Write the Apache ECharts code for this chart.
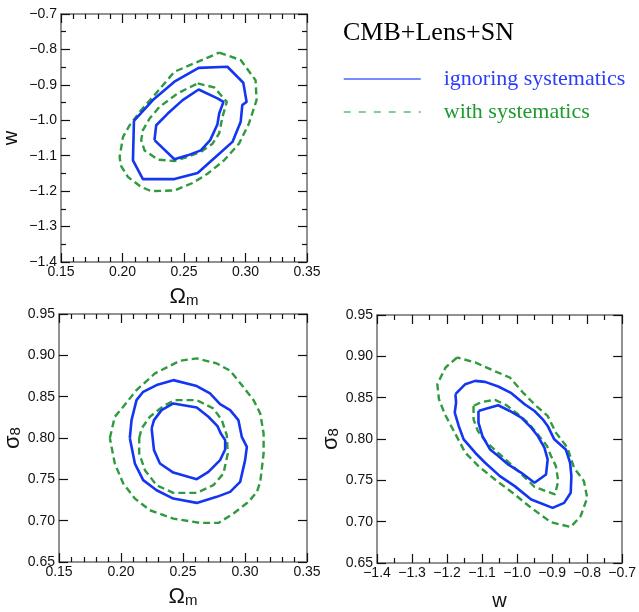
<!DOCTYPE html>
<html>
<head>
<meta charset="utf-8">
<script src="https://cdn.jsdelivr.net/npm/echarts@6/dist/echarts.min.js"></script>
<style>
  html, body { margin: 0; padding: 0; background: #fff; }
  #chart { width: 639px; height: 612px; }
</style>
</head>
<body>
<div id="chart"></div>
<script>
// contour points, [x, y]
// panel 1: Omega_m vs w
const omW_blueInner = [[0.226,-1.056],[0.2274,-1.014],[0.2368,-0.981],[0.2489,-0.943],[0.2619,-0.913],[0.2772,-0.938],[0.2821,-0.948],[0.2786,-0.981],[0.2772,-1.011],[0.2713,-1.056],[0.2637,-1.085],[0.253,-1.099],[0.2422,-1.11]];
const omW_blueOuter = [[0.2093,-1.002],[0.2085,-1.113],[0.2166,-1.166],[0.2422,-1.166],[0.2611,-1.149],[0.2759,-1.103],[0.2894,-1.061],[0.2961,-1.004],[0.2974,-0.957],[0.3009,-0.948],[0.2982,-0.894],[0.2853,-0.849],[0.2619,-0.852],[0.2422,-0.891],[0.2247,-0.943]];
const omW_greenInner = [[0.2611,-0.896],[0.2745,-0.907],[0.2848,-0.948],[0.2813,-0.99],[0.2786,-1.037],[0.2732,-1.066],[0.2637,-1.089],[0.253,-1.103],[0.2422,-1.115],[0.2287,-1.111],[0.2179,-1.085],[0.2152,-1.056],[0.2166,-1.028],[0.222,-0.995],[0.2301,-0.962],[0.2449,-0.924]];
const omW_greenOuter = [[0.2786,-0.809],[0.2961,-0.83],[0.3082,-0.887],[0.309,-0.943],[0.3028,-1.009],[0.2947,-1.066],[0.2826,-1.113],[0.2691,-1.151],[0.257,-1.177],[0.2422,-1.198],[0.2233,-1.2],[0.2152,-1.188],[0.2044,-1.16],[0.1985,-1.127],[0.1977,-1.103],[0.2004,-1.047],[0.2058,-1.014],[0.2152,-0.971],[0.226,-0.929],[0.2422,-0.863],[0.2611,-0.835]];

// panel 2: Omega_m vs sigma8
const omS_blueInner = [[0.2247,0.8115],[0.2266,0.7853],[0.2314,0.7691],[0.2422,0.7582],[0.2611,0.7502],[0.2705,0.759],[0.2799,0.7732],[0.284,0.7861],[0.284,0.7974],[0.2805,0.8055],[0.2778,0.8144],[0.2705,0.8257],[0.2611,0.837],[0.2422,0.8418],[0.2327,0.8337],[0.2266,0.8216]];
const omS_blueOuter = [[0.2071,0.8],[0.2085,0.8216],[0.2125,0.8458],[0.2179,0.8559],[0.2287,0.864],[0.2422,0.87],[0.2611,0.8628],[0.2718,0.8539],[0.2799,0.841],[0.288,0.8337],[0.2947,0.8216],[0.2974,0.8014],[0.3015,0.7893],[0.3001,0.7732],[0.2961,0.7469],[0.288,0.7348],[0.2772,0.7288],[0.2611,0.7215],[0.2422,0.7267],[0.2287,0.7368],[0.2179,0.749],[0.2112,0.7691]];
const omS_greenInner = [[0.2147,0.8],[0.2166,0.8115],[0.2233,0.8257],[0.2341,0.8386],[0.2435,0.8458],[0.2611,0.8458],[0.2745,0.8357],[0.2813,0.8216],[0.2853,0.8034],[0.2861,0.7812],[0.2826,0.757],[0.2745,0.7429],[0.2611,0.7336],[0.2422,0.7336],[0.2287,0.7429],[0.2193,0.7611],[0.2147,0.7812]];
const omS_greenOuter = [[0.191,0.8],[0.195,0.8257],[0.2018,0.8378],[0.2125,0.858],[0.2274,0.8781],[0.2476,0.8935],[0.2611,0.8963],[0.2772,0.8902],[0.288,0.8814],[0.2974,0.864],[0.3069,0.8458],[0.3123,0.8297],[0.315,0.8055],[0.315,0.7812],[0.3123,0.7469],[0.3096,0.7348],[0.3028,0.7227],[0.2907,0.7086],[0.2786,0.6973],[0.2637,0.6973],[0.2422,0.7025],[0.2233,0.7126],[0.2112,0.7267],[0.2018,0.7449],[0.195,0.7691]];

// panel 3: w vs sigma8
const wS_blueInner = [[-1.1103,0.8339],[-1.1103,0.8198],[-1.099,0.8036],[-1.0773,0.7874],[-1.0538,0.7794],[-1.0256,0.7692],[-0.988,0.7591],[-0.9503,0.747],[-0.9174,0.7571],[-0.9127,0.7753],[-0.9221,0.7895],[-0.9409,0.8036],[-0.9597,0.8137],[-0.988,0.8259],[-1.0209,0.8339],[-1.0538,0.8408],[-1.0867,0.8368]];
const wS_blueOuter = [[-1.1761,0.8542],[-1.1742,0.8441],[-1.178,0.8319],[-1.1667,0.8158],[-1.1526,0.7996],[-1.1197,0.7834],[-1.0914,0.7713],[-1.0491,0.7551],[-1.0068,0.743],[-0.9597,0.7268],[-0.8986,0.7167],[-0.8657,0.7227],[-0.8469,0.7349],[-0.845,0.7551],[-0.8487,0.7713],[-0.861,0.7874],[-0.8939,0.7996],[-0.9127,0.8158],[-0.9268,0.8238],[-0.9503,0.8339],[-0.9785,0.842],[-1.0162,0.8554],[-1.0538,0.8635],[-1.0914,0.8691],[-1.1197,0.8703],[-1.1479,0.8663]];
const wS_greenInner = [[-1.1244,0.84],[-1.1244,0.8238],[-1.1121,0.8097],[-1.0867,0.7955],[-1.0491,0.7814],[-1.0021,0.7632],[-0.9503,0.7422],[-0.892,0.7329],[-0.8826,0.749],[-0.8892,0.7672],[-0.9033,0.7794],[-0.9146,0.7915],[-0.9409,0.8056],[-0.9691,0.8198],[-0.9974,0.8299],[-1.0303,0.8408],[-1.0632,0.8473],[-1.1009,0.8449]];
const wS_greenOuter = [[-1.1714,0.8986],[-1.2043,0.8865],[-1.2278,0.8663],[-1.2231,0.8481],[-1.2062,0.8299],[-1.1808,0.8097],[-1.1479,0.7834],[-1.1103,0.7672],[-1.0632,0.751],[-1.0068,0.7329],[-0.9597,0.7167],[-0.9033,0.6993],[-0.8469,0.6936],[-0.8186,0.7066],[-0.7998,0.7288],[-0.8092,0.749],[-0.8375,0.7652],[-0.8563,0.7895],[-0.8892,0.8077],[-0.9127,0.8279],[-0.9456,0.84],[-0.9832,0.8562],[-1.0209,0.8744],[-1.0726,0.8837],[-1.1197,0.8926]];

// axis ranges: [min, max, major step, minor splits]
const omAxis = [0.15, 0.35, 0.05, 5];
const wAxisY = [-1.4, -0.7, 0.1, 2];
const wAxisX = [-1.4, -0.7, 0.1, 2];
const s8Axis = [0.65, 0.95, 0.05, 0];

const seriesNames = ['ignoring systematics', 'with systematics'];
const legendTitle = 'CMB+Lens+SN';

const BLUE = '#1436f2';
const GREEN = '#2f9a3e';
const TICK_FONT = 'Liberation Sans, Arial, Helvetica, sans-serif';
const SERIF = 'Liberation Serif, Times New Roman, serif';

const chart = echarts.init(document.getElementById('chart'));

const grids = [
  { left: 59, top: 14, width: 248, height: 248 },
  { left: 59, top: 314, width: 248, height: 248 },
  { left: 377, top: 315, width: 248, height: 248 },
];

function fmt(dec) {
  return (v) => v.toFixed(dec).replace('-', '\u2212');
}

function axis(kind, grid, range, dec, mirror, name, nameGap) {
  const [min, max, step, minor] = range;
  const a = {
    type: 'value',
    gridIndex: grid,
    min, max, interval: step,
    position: kind === 'x' ? (mirror ? 'top' : 'bottom') : (mirror ? 'right' : 'left'),
    axisLine: { show: true, onZero: false, lineStyle: { color: '#6e6e6e', width: 1.5 } },
    axisTick: { show: true, inside: true, length: 9, lineStyle: { color: '#111', width: 1.2 } },
    minorTick: { show: minor > 0, splitNumber: minor || 5, length: 5, lineStyle: { color: '#111', width: 1.2 } },
    splitLine: { show: false },
    axisLabel: {
      show: !mirror,
      formatter: fmt(dec),
      color: '#111',
      fontSize: 14,
      fontFamily: TICK_FONT,
      margin: kind === 'x' ? 3 : 4,
      showMinLabel: true,
      showMaxLabel: true,
    },
  };
  if (name && !mirror) {
    a.name = name;
    a.nameLocation = 'middle';
    a.nameGap = nameGap;
    a.nameTextStyle = {
      fontFamily: TICK_FONT,
      color: '#111',
      rich: {
        g: { fontSize: 22, fontFamily: TICK_FONT, color: '#111', lineHeight: 26 },
        s: { fontSize: 15, fontFamily: TICK_FONT, color: '#111', lineHeight: 26, padding: [7, 0, 0, 0] },
        w: { fontSize: 20, fontFamily: TICK_FONT, color: '#111', lineHeight: 26 },
      },
    };
  }
  return a;
}

const xAxes = [
  axis('x', 0, omAxis, 2, false, '{g|\u03a9}{s|m}', 22),
  axis('x', 1, omAxis, 2, false, '{g|\u03a9}{s|m}', 22),
  axis('x', 2, wAxisX, 1, false, '{w|w}', 25),
  axis('x', 0, omAxis, 2, true),
  axis('x', 1, omAxis, 2, true),
  axis('x', 2, wAxisX, 1, true),
];
const yAxes = [
  axis('y', 0, wAxisY, 1, false, '{w|w}', 37),
  axis('y', 1, s8Axis, 2, false, '{g|\u03c3}{s|8}', 33),
  axis('y', 2, s8Axis, 2, false, '{g|\u03c3}{s|8}', 32),
  axis('y', 0, wAxisY, 1, true),
  axis('y', 1, s8Axis, 2, true),
  axis('y', 2, s8Axis, 2, true),
];

function closed(pts) {
  return pts.concat([pts[0]]);
}

function contour(pts, idx, green) {
  return {
    type: 'line',
    name: green ? seriesNames[1] : seriesNames[0],
    xAxisIndex: idx,
    yAxisIndex: idx,
    data: closed(pts),
    symbol: 'none',
    smooth: false,
    silent: true,
    color: green ? GREEN : BLUE,
    lineStyle: green
      ? { color: GREEN, width: 2.4, type: [7, 4] }
      : { color: BLUE, width: 2.6 },
  };
}

const series = [
  contour(omW_greenOuter, 0, true),
  contour(omW_greenInner, 0, true),
  contour(omW_blueOuter, 0, false),
  contour(omW_blueInner, 0, false),
  contour(omS_greenOuter, 1, true),
  contour(omS_greenInner, 1, true),
  contour(omS_blueOuter, 1, false),
  contour(omS_blueInner, 1, false),
  contour(wS_greenOuter, 2, true),
  contour(wS_greenInner, 2, true),
  contour(wS_blueOuter, 2, false),
  contour(wS_blueInner, 2, false),
];

chart.setOption({
  animation: false,
  title: {
    text: legendTitle,
    left: 343,
    top: 20,
    padding: 0,
    textStyle: {
      fontFamily: SERIF,
      fontWeight: 'normal',
      fontSize: 26,
      color: '#000',
    },
  },
  legend: {
    orient: 'vertical',
    left: 343,
    top: 68,
    padding: 0,
    itemWidth: 77,
    itemHeight: 12,
    itemGap: 11,
    selectedMode: false,
    textStyle: {
      fontFamily: SERIF,
      fontSize: 22,
      padding: [0, 0, 0, 18],
    },
    data: [
      {
        name: seriesNames[0],
        textStyle: { color: '#2b3cff' },
        itemStyle: { opacity: 0 },
        lineStyle: { color: '#4a66ff', width: 1.5, type: 'solid' },
      },
      {
        name: seriesNames[1],
        textStyle: { color: '#1e9a2e' },
        itemStyle: { opacity: 0 },
        lineStyle: { color: '#5cbf6c', width: 1.5, type: [7, 8] },
      },
    ],
  },
  grid: grids,
  xAxis: xAxes,
  yAxis: yAxes,
  series,
});
</script>
</body>
</html>
